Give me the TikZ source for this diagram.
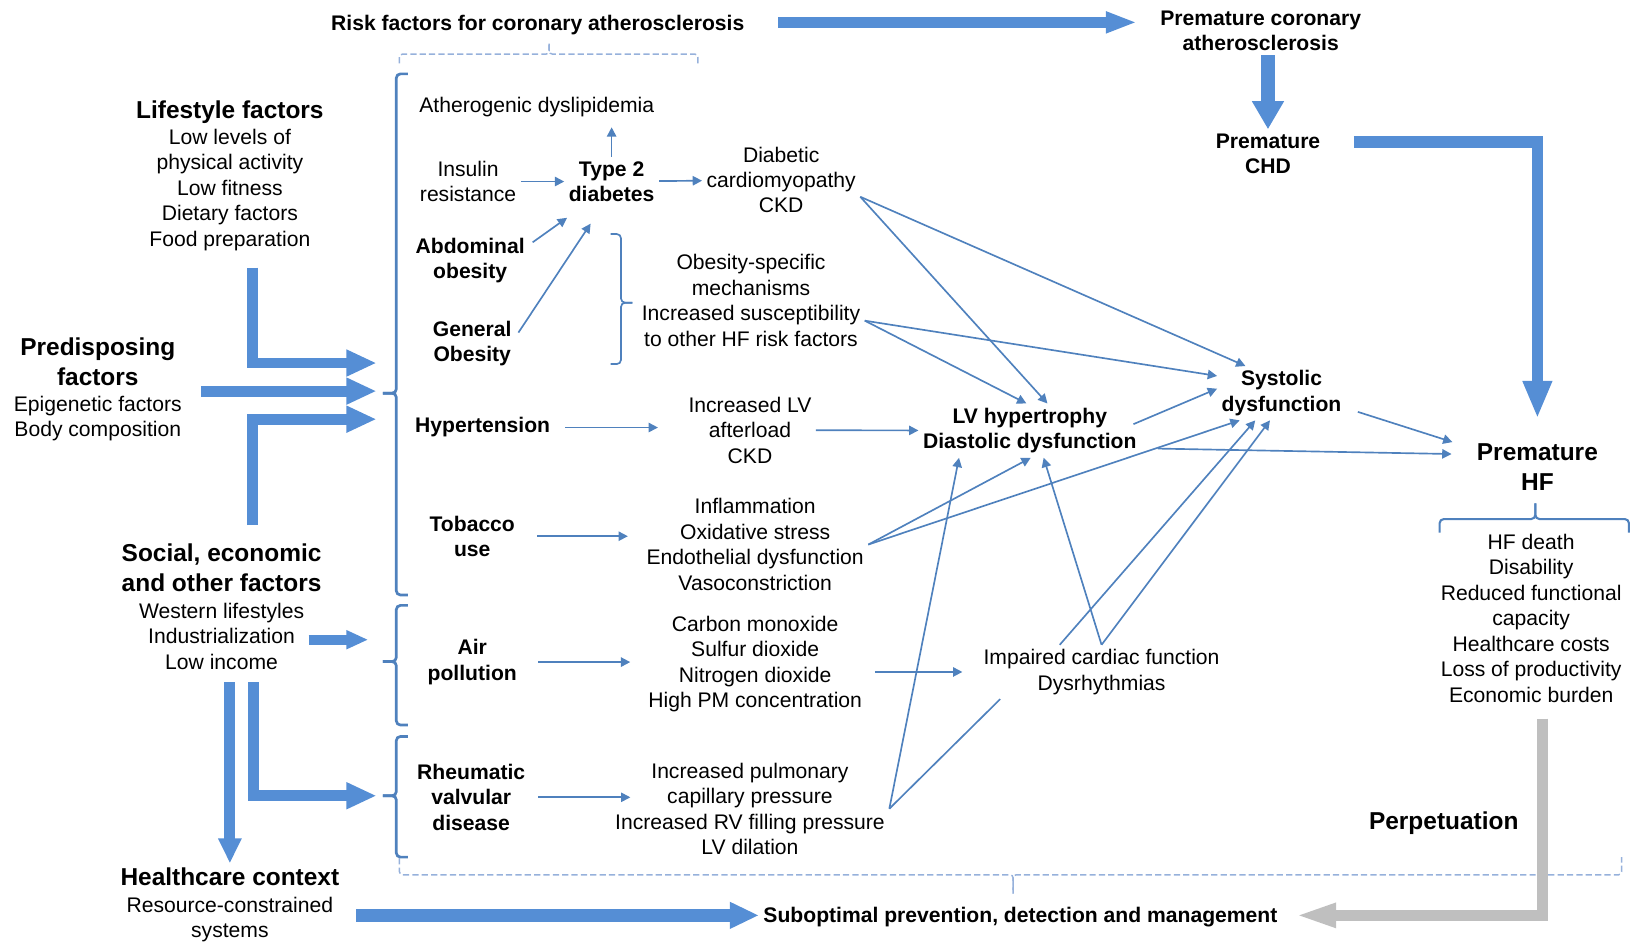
\documentclass[tikz,border=0pt]{standalone}
\usepackage{fontspec}
\setmainfont{Liberation Sans}
\usepackage{tikz}
\usetikzlibrary{arrows.meta}

\definecolor{fatblue}{RGB}{85,142,213}
\definecolor{lineblue}{RGB}{79,129,189}
\definecolor{dashblue}{RGB}{150,177,219}
\definecolor{perpgray}{RGB}{191,191,191}

\tikzset{
  txt/.style={font=\fontsize{10.15}{12.25}\selectfont, align=center, inner sep=2pt},
  key/.style={txt, font=\fontsize{10.15}{12.25}\selectfont\bfseries},
  head/.style={txt, font=\fontsize{11.75}{14.25}\selectfont\bfseries},
  link/.style={draw=lineblue, line width=0.8pt, -{Triangle[length=4.5pt,width=4.5pt]}},
  fat/.style={draw=fatblue, line width=5.25pt, -{Triangle[length=14.5pt,width=12pt]}},
  brk/.style={draw=lineblue, line width=1.3pt, rounded corners=2pt},
  dbrk/.style={draw=dashblue, line width=0.7pt, dash pattern=on 3pt off 1.5pt, rounded corners=1.5pt},
}

\begin{document}
\begin{tikzpicture}[x=0.5pt, y=-0.5pt]
\useasboundingbox (0,0) rectangle (1568,906);

% top row
\node[key] (rf) at (517,24.5) {Risk factors for coronary atherosclerosis};
\node[key] (pca) at (1212,29.5) {Premature coronary\\atherosclerosis};
\node[key] (chd) at (1219,148) {Premature\\CHD};

% left column
\node[head] (life) at (221,107.5) {Lifestyle factors};
\node[txt] (lifex) at (221,182.5) {Low levels of\\physical activity\\Low fitness\\Dietary factors\\Food preparation};
\node[head] (pred) at (94,347.5) {Predisposing\\factors};
\node[txt] (predx) at (94,402.5) {Epigenetic factors\\Body composition};
\node[head] (soc) at (213,546) {Social, economic\\and other factors};
\node[txt] (socx) at (213,611.5) {Western lifestyles\\Industrialization\\Low income};
\node[head] (hc) at (221,843) {Healthcare context};
\node[txt] (hcx) at (221,884) {Resource-constrained\\systems};

% risk factors and mechanisms
\node[txt] (ath) at (516,102.5) {Atherogenic dyslipidemia};
\node[txt] (ins) at (450,174.5) {Insulin\\resistance};
\node[key] (t2d) at (588,174.5) {Type 2\\diabetes};
\node[txt] (dcm) at (751,173) {Diabetic\\cardiomyopathy\\CKD};
\node[key] (abd) at (452,250.5) {Abdominal\\obesity};
\node[key] (gen) at (454,330.5) {General\\Obesity};
\node[txt] (obs) at (722,289) {Obesity-specific\\mechanisms\\Increased susceptibility\\to other HF risk factors};
\node[key] (hyp) at (464,411) {Hypertension};
\node[txt] (ilv) at (721,413.5) {Increased LV\\afterload\\CKD};
\node[key] (tob) at (454,515.5) {Tobacco\\use};
\node[txt] (inf) at (726,523.5) {Inflammation\\Oxidative stress\\Endothelial dysfunction\\Vasoconstriction};
\node[key] (air) at (454,636.5) {Air\\pollution};
\node[txt] (crb) at (726,638.5) {Carbon monoxide\\Sulfur dioxide\\Nitrogen dioxide\\High PM concentration};
\node[key] (rhd) at (453,766.5) {Rheumatic\\valvular\\disease};
\node[txt] (ipc) at (721,777.5) {Increased pulmonary\\capillary pressure\\Increased RV filling pressure\\LV dilation};

% cardiac consequences
\node[key] (lvh) at (990,414) {LV hypertrophy\\Diastolic dysfunction};
\node[key] (sys) at (1232,378) {Systolic\\dysfunction};
\node[txt] (imp) at (1059,646) {Impaired cardiac function\\Dysrhythmias};
\node[head] (phf) at (1478,449) {Premature\\HF};
\node[txt] (phfx) at (1472,594.5) {HF death\\Disability\\Reduced functional\\capacity\\Healthcare costs\\Loss of productivity\\Economic burden};
\node[head] (perp) at (1388,791.5) {Perpetuation};
\node[key] (sub) at (981,881.5) {Suboptimal prevention, detection and management};

% brackets
\draw[brk] (392,71) -- (381,71) -- (381,378) -- (368,378);
\draw[brk] (368,378) -- (381,378) -- (381,572) -- (392,572);
\draw[brk] (392,582) -- (381,582) -- (381,636) -- (368,636);
\draw[brk] (368,636) -- (381,636) -- (381,697) -- (392,697);
\draw[brk] (392,708) -- (381,708) -- (381,765) -- (368,765);
\draw[brk] (368,765) -- (381,765) -- (381,824) -- (392,824);
\draw[brk, line width=0.8pt] (587,225) -- (597,225) -- (597,291) -- (608,291);
\draw[brk, line width=0.8pt] (608,291) -- (597,291) -- (597,350) -- (587,350);
\draw[brk, line width=1pt] (1384,512) -- (1384,499) -- (1476,499) -- (1476,484);
\draw[brk, line width=1pt] (1476,484) -- (1476,499) -- (1566,499) -- (1566,512);
\draw[dbrk] (384,61) -- (384,52) -- (528,52) -- (528,42);
\draw[dbrk] (528,42) -- (528,52) -- (671,52) -- (671,61);
\draw[dbrk] (384,825) -- (384,841) -- (974,841) -- (974,859);
\draw[dbrk] (974,859) -- (974,841) -- (1559,841) -- (1559,824);

\coordinate (inA1) at (362,349);
\coordinate (inA2) at (362,376);
\coordinate (inA3) at (362,403);
\coordinate (inB) at (354,615);
\coordinate (inC) at (362,765);

% broad arrows
\draw[fat, line width=5pt, -{Triangle[length=15pt,width=9.5pt]}, shorten <=14pt, shorten >=9pt] ([yshift=1.5pt]rf.east) -- ([yshift=1.5pt]rf.east -| pca.west);
\draw[fat, line width=6.5pt, -{Triangle[length=13.5pt,width=14.5pt]}] (chd.north |- pca.south) -- (chd.north);
\draw[fat, line width=5.5pt, -{Triangle[length=18pt,width=13pt]}, shorten <=14pt, shorten >=10pt] (chd.12) -| (phf.north);
\draw[fat, shorten <=6pt] ([xshift=11pt]lifex.south) |- (inA1);
\draw[fat, shorten <=7pt] (predx.east |- inA2) -- (inA2);
\draw[fat, shorten <=7pt] ([xshift=15pt]soc.north) |- (inA3);
\draw[fat, line width=4.8pt, -{Triangle[length=10.5pt,width=8.5pt]}] (socx.east |- inB) -- (inB);
\draw[fat, shorten <=4pt] ([xshift=15.5pt]socx.south) |- (inC);
\draw[fat, -{Triangle[length=12pt,width=10.5pt]}, shorten <=4pt] (hc.north |- socx.south) -- (hc.north);
\draw[fat, line width=6pt, -{Triangle[length=14pt,width=12pt]}, shorten <=9pt] ([yshift=0.75pt]hcx.east |- sub.west) -- ([yshift=0.75pt]sub.west);
\draw[fat, draw=perpgray, line width=5.5pt, -{Triangle[length=20pt,width=10.5pt]}, shorten <=5.5pt, shorten >=6pt] ([xshift=5.5pt]phfx.south) |- ([yshift=0.75pt]sub.east);

% thin arrows
\draw[link, shorten >=3pt] (t2d.north) -- (t2d.north |- ath.south);
\draw[link] (ins) -- (t2d);
\draw[link] (t2d) -- (dcm);
\draw[link, shorten <=2pt, shorten >=9.5pt] (abd.15) -- (t2d.221);
\draw[link, shorten <=2pt, shorten >=10pt] (gen.10) -- (t2d.249);
\draw[link] (dcm.-12) -- (lvh.57);
\draw[link] (dcm.-12) -- (sys.143);
\draw[link] (obs.-10) -- (lvh.97);
\draw[link] (obs.-10) -- (sys.165);
\draw[link, shorten <=5pt, shorten >=12.5pt] (hyp.east) -- (hyp.east -| ilv.west);
\draw[link] (ilv) -- (lvh);
\draw[link, shorten <=-4pt] (lvh.5) -- (sys.176);
\draw[link, shorten <=6pt, shorten >=10pt] (sys.-13) -- (phf.164);
\draw[link, shorten <=8pt, shorten >=10pt] (lvh.-9) -- (phf.169);
\draw[link, shorten <=8.5pt, shorten >=6.8pt] (tob.east) -- (tob.east -| inf.west);
\draw[link] (inf.east) -- (lvh.-88);
\draw[link] (inf.east) -- (sys.213);
\draw[link, shorten <=8pt, shorten >=6.5pt] (air.east) -- (air.east -| crb.west);
\draw[link, shorten <=4pt, shorten >=8pt] (crb.east |- imp.west) -- (imp.west);
\draw[link] (imp.north) -- (lvh.-63);
\draw[link] (imp.north) -- (sys.247);
\draw[link] (imp.147) -- (sys.226);
\draw[link, shorten <=4pt, shorten >=-9.5pt] (rhd.east) -- (rhd.east -| ipc.west);
\draw[link] (ipc.east) -- (lvh.201);
\draw[link, -] (ipc.east) -- (imp.195);
\end{tikzpicture}
\end{document}
